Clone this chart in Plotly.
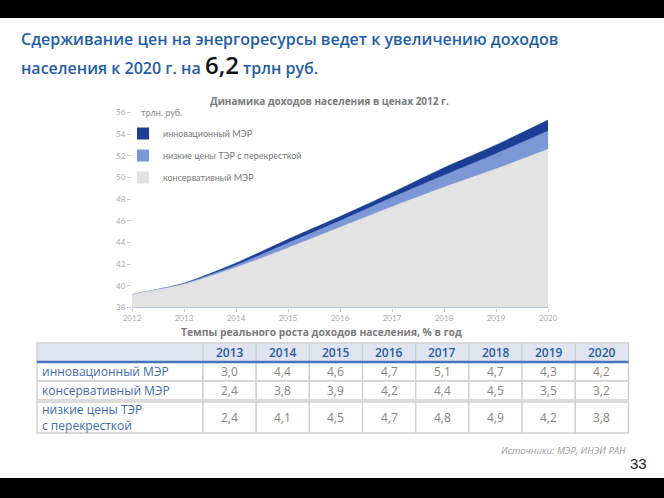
import plotly.graph_objects as go

W, H = 664, 498

years = [2012, 2013, 2014, 2015, 2016, 2017, 2018, 2019, 2020]
innovative = [39.2, 40.25, 42.1, 44.3, 46.4, 48.6, 50.9, 53.0, 55.3]
low_prices = [39.2, 40.2, 41.9, 43.95, 46.0, 48.15, 50.2, 52.2, 54.3]
conservative = [39.2, 40.15, 41.7, 43.5, 45.4, 47.3, 49.1, 50.8, 52.6]

series_names = ["инновационный МЭР", "низкие цены ТЭР с перекресткой", "консервативный МЭР"]
series_colors = ["#1c3f95", "#7b97d6", "#e3e3e3"]

table_years = ["2013", "2014", "2015", "2016", "2017", "2018", "2019", "2020"]
table_rows = ["инновационный МЭР", "консервативный МЭР", "низкие цены ТЭР<br>с перекресткой"]
rate_innovative = ["3,0", "4,4", "4,6", "4,7", "5,1", "4,7", "4,3", "4,2"]
rate_conservative = ["2,4", "3,8", "3,9", "4,2", "4,4", "4,5", "3,5", "3,2"]
rate_low_prices = ["2,4", "4,1", "4,5", "4,7", "4,8", "4,9", "4,2", "3,8"]
table_values = [rate_innovative, rate_conservative, rate_low_prices]


def px(x):
    return x / W


def py(y):
    return 1 - y / H


fig = go.Figure()

for name, vals, col in zip(series_names, [innovative, low_prices, conservative], series_colors):
    fig.add_trace(go.Scatter(
        x=years, y=vals, mode="lines", fill="tozeroy", fillcolor=col,
        line=dict(color=col, width=0.5, shape="spline", smoothing=0.6),
        showlegend=False, hoverinfo="skip"))

for name, col in zip(series_names, series_colors):
    fig.add_trace(go.Scatter(
        x=[None], y=[None], mode="markers", name=name, legendgroup=name,
        marker=dict(symbol="square", size=9, color=col)))

shapes = [
    dict(type="rect", xref="paper", yref="paper", x0=0, x1=1, y0=py(18), y1=1,
         fillcolor="black", line=dict(width=0), layer="below"),
    dict(type="rect", xref="paper", yref="paper", x0=0, x1=1, y0=0, y1=py(478),
         fillcolor="black", line=dict(width=0), layer="below"),
]

annotations = [
    dict(text="Сдерживание цен на энергоресурсы ведет к увеличению доходов",
         x=px(19), y=py(39), xref="paper", yref="paper", xanchor="left", yanchor="middle",
         showarrow=False, font=dict(family="Open Sans", size=16, color="#1f5ea8", weight=600)),
    dict(text="населения к 2020 г. на <span style='font-size:24px;color:#111111'>6,2</span> трлн руб.",
         x=px(19), y=py(64), xref="paper", yref="paper", xanchor="left", yanchor="middle",
         showarrow=False, font=dict(family="Open Sans", size=16, color="#1f5ea8", weight=600)),
    dict(text="Динамика доходов населения в ценах 2012 г.",
         x=px(329), y=py(101), xref="paper", yref="paper", xanchor="center", yanchor="middle",
         showarrow=False, font=dict(family="Open Sans", size=10, color="#7a7a7a", weight=700)),
    dict(text="трлн. руб.",
         x=px(139), y=py(113), xref="paper", yref="paper", xanchor="left", yanchor="middle",
         showarrow=False, font=dict(family="Lato", size=9, color="#888888")),
    dict(text="Темпы реального роста доходов населения, % в год",
         x=px(321), y=py(332), xref="paper", yref="paper", xanchor="center", yanchor="middle",
         showarrow=False, font=dict(family="Open Sans", size=10.3, color="#7a7a7a", weight=700)),
    dict(text="<i>Источники: МЭР, ИНЭИ РАН</i>",
         x=px(628), y=py(450), xref="paper", yref="paper", xanchor="right", yanchor="middle",
         showarrow=False, font=dict(family="Open Sans", size=9.5, color="#9a9a9a")),
    dict(text="33",
         x=px(649), y=py(463), xref="paper", yref="paper", xanchor="right", yanchor="middle",
         showarrow=False, font=dict(family="Liberation Sans", size=15, color="#222222")),
]

# ---- table (grid + text) ----
t_left, t_first, t_right = 37, 203, 628.5
col_w = (t_right - t_first) / len(table_years)
row_edges = [(343, 362), (362, 381), (381, 400), (402, 433)]
border = dict(color="#cfcfcf", width=1.3)

hy0, hy1 = row_edges[0]
shapes.append(dict(type="rect", xref="paper", yref="paper", x0=px(t_left), x1=px(t_first),
                   y0=py(hy1), y1=py(hy0), fillcolor="#dfe4f0", line=border, layer="above"))
for i, yr in enumerate(table_years):
    cx0 = t_first + i * col_w
    shapes.append(dict(type="rect", xref="paper", yref="paper", x0=px(cx0), x1=px(cx0 + col_w),
                       y0=py(hy1), y1=py(hy0), fillcolor="#dfe4f0", line=border, layer="above"))
    annotations.append(dict(text=yr, x=px(cx0 + col_w / 2), y=py((hy0 + hy1) / 2),
                            xref="paper", yref="paper", xanchor="center", yanchor="middle",
                            showarrow=False,
                            font=dict(family="Open Sans", size=12, color="#2b5aa2", weight=600)))

for r, (label, vals) in enumerate(zip(table_rows, table_values)):
    ry0, ry1 = row_edges[r + 1]
    shapes.append(dict(type="rect", xref="paper", yref="paper", x0=px(t_left), x1=px(t_first),
                       y0=py(ry1), y1=py(ry0), fillcolor="white", line=border, layer="above"))
    annotations.append(dict(text=label, x=px(t_left + 3), y=py((ry0 + ry1) / 2),
                            xref="paper", yref="paper", xanchor="left", yanchor="middle",
                            align="left", showarrow=False,
                            font=dict(family="Open Sans", size=12, color="#3f6baf")))
    for i, v in enumerate(vals):
        cx0 = t_first + i * col_w
        shapes.append(dict(type="rect", xref="paper", yref="paper", x0=px(cx0), x1=px(cx0 + col_w),
                           y0=py(ry1), y1=py(ry0), fillcolor="white", line=border, layer="above"))
        annotations.append(dict(text=v, x=px(cx0 + col_w / 2), y=py((ry0 + ry1) / 2),
                                xref="paper", yref="paper", xanchor="center", yanchor="middle",
                                showarrow=False,
                                font=dict(family="Open Sans", size=12, color="#858585")))

shapes.append(dict(type="line", xref="paper", yref="paper", x0=px(t_left), x1=px(t_right),
                   y0=py(362), y1=py(362), line=dict(color="#4a72bc", width=2.6), layer="above"))

fig.update_layout(
    width=W, height=H, margin=dict(l=0, r=0, t=0, b=0, pad=0, autoexpand=False),
    paper_bgcolor="white", plot_bgcolor="white",
    shapes=shapes, annotations=annotations,
    xaxis=dict(domain=[px(132), px(548)], range=[2012, 2020], tickvals=years,
               ticktext=[str(y) for y in years], showgrid=False, zeroline=False,
               ticks="outside", ticklen=3, tickcolor="#cccccc", automargin=False,
               tickfont=dict(family="Lato", size=8, color="#aaaaaa"), fixedrange=True),
    yaxis=dict(domain=[py(307.5), py(112.5)], range=[38, 56], tickvals=list(range(38, 57, 2)),
               showgrid=False, zeroline=False, ticks="outside", ticklen=4, tickcolor="#cccccc",
               automargin=False,
               tickfont=dict(family="Lato", size=8, color="#aaaaaa"), fixedrange=True),
    legend=dict(x=px(123), y=py(119), xanchor="left", yanchor="top", bgcolor="rgba(0,0,0,0)",
                font=dict(family="Lato", size=9, color="#777777"), tracegroupgap=3,
                itemsizing="constant"),
    showlegend=True,
)

fig.write_html("out.html", post_script="document.body.style.margin='0';")
